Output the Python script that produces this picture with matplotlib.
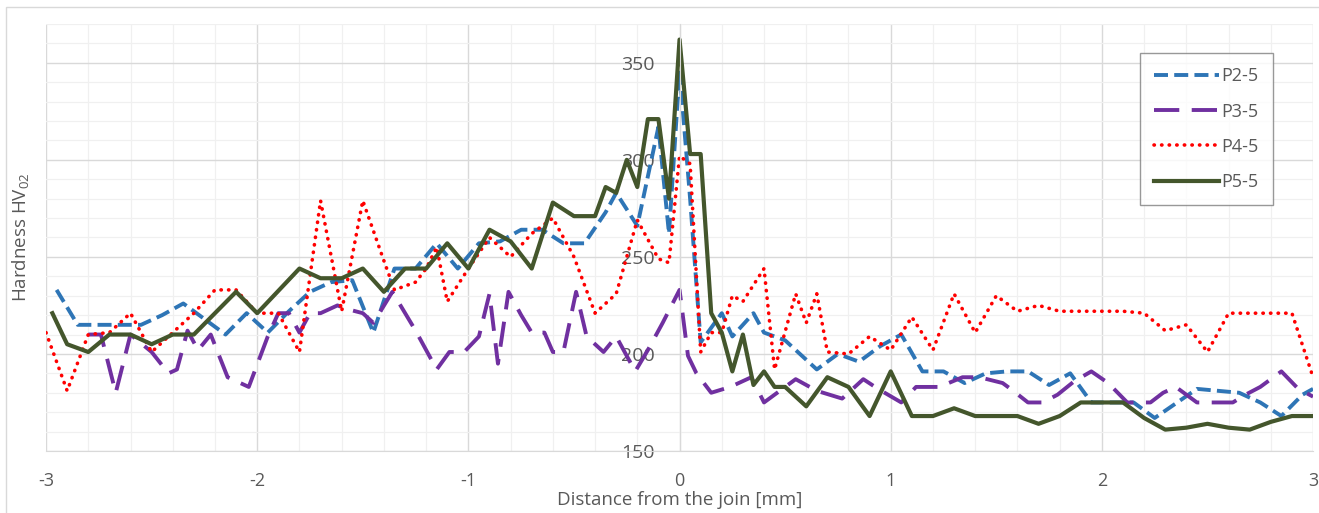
import matplotlib
matplotlib.use("Agg")
import matplotlib.pyplot as plt
from matplotlib.patches import Rectangle
from matplotlib.ticker import MultipleLocator

plt.rcParams['font.family'] = ['Open Sans', 'DejaVu Sans']
plt.rcParams['mathtext.fontset'] = 'custom'
plt.rcParams['mathtext.rm'] = 'Open Sans'
plt.rcParams['mathtext.it'] = 'Open Sans:italic'
plt.rcParams['axes.unicode_minus'] = False

# P2-5 (blue, dashed)
x_p2 = [-2.95, -2.85, -2.75, -2.65, -2.55, -2.45, -2.35, -2.25, -2.15, -2.05, -1.95, -1.85, -1.75, -1.65, -1.55, -1.45,
        -1.35, -1.25, -1.15, -1.05, -0.95, -0.85, -0.75, -0.65, -0.55, -0.45,
        -0.35, -0.3, -0.2, -0.1, -0.05, 0.0, 0.05, 0.1, 0.2, 0.25, 0.35, 0.4, 0.5,
        0.65, 0.75, 0.85, 0.95, 1.05, 1.15, 1.25, 1.35, 1.45, 1.55, 1.65, 1.75, 1.85, 1.95,
        2.05, 2.15, 2.25, 2.45, 2.55, 2.65, 2.75, 2.85, 2.95, 3.0]
y_p2 = [233, 215, 215, 215, 215, 220, 226, 218, 210, 221, 211, 222, 232, 237, 238, 211,
        244, 244, 257, 244, 257, 258, 264, 264, 257, 257,
        273, 283, 266, 317, 262, 346, 280, 206, 221, 209, 221, 211, 207,
        192, 200, 196, 204, 210, 191, 191, 185, 190, 191, 191, 184, 190, 175,
        175, 175, 167, 182, 181, 180, 175, 168, 179, 182]

# P3-5 (purple, long dash)
x_p3 = [-2.8, -2.74, -2.67, -2.6, -2.5, -2.42, -2.38, -2.33, -2.28, -2.22,
        -2.14, -2.04, -1.95, -1.9, -1.85, -1.8, -1.75, -1.7, -1.62, -1.57,
        -1.5, -1.45, -1.36, -1.25, -1.15, -1.09, -1.02, -0.95, -0.9, -0.86,
        -0.81, -0.75, -0.7, -0.64, -0.6, -0.55, -0.49, -0.44, -0.36, -0.3,
        -0.21, -0.15, -0.08, 0.0, 0.04, 0.08, 0.15, 0.24, 0.34, 0.4,
        0.55, 0.65, 0.77, 0.87, 0.94, 1.05, 1.12, 1.23, 1.34, 1.42,
        1.53, 1.58, 1.65, 1.72, 1.79, 1.87, 1.95, 2.03, 2.12, 2.23,
        2.29, 2.35, 2.45, 2.62, 2.68, 2.75, 2.85, 2.93, 3.0]
y_p3 = [210, 210, 180, 210, 201, 190, 192, 212, 202, 210,
        188, 183, 209, 221, 221, 211, 221, 221, 225, 223,
        221, 216, 232, 212, 192, 201, 201, 209, 231, 195,
        232, 220, 211, 211, 201, 201, 232, 209, 201, 209,
        191, 202, 216, 233, 199, 190, 180, 183, 188, 175,
        187, 181, 177, 187, 182, 175, 183, 183, 188, 188,
        185, 181, 175, 175, 179, 186, 191, 185, 175, 175,
        180, 183, 175, 175, 179, 183, 191, 182, 178]

# P4-5 (red, dotted)
x_p4 = [-3.0, -2.9, -2.8, -2.7, -2.6, -2.5, -2.4, -2.3, -2.2, -2.1, -2.0, -1.9, -1.8, -1.7, -1.6, -1.5, -1.4,
        -1.35, -1.25, -1.2, -1.15, -1.1,
        -1.0, -0.9, -0.8, -0.7, -0.6, -0.5, -0.4, -0.3, -0.2, -0.1, -0.05, 0.0,
        0.05, 0.1, 0.15, 0.2, 0.25, 0.3, 0.4, 0.45, 0.55, 0.6, 0.65, 0.7, 0.8, 0.9, 1.0,
        1.1, 1.2, 1.3, 1.4, 1.5, 1.6, 1.7, 1.8, 1.9, 2.0,
        2.1, 2.2, 2.3, 2.4, 2.5, 2.6, 2.7, 2.8, 2.9, 3.0]
y_p4 = [211, 181, 210, 211, 221, 201, 211, 221, 233, 233, 221, 221, 201, 279, 222, 279, 248,
        233, 237, 244, 255, 227,
        244, 260, 250, 262, 270, 250, 221, 231, 269, 249, 247, 302,
        298, 201, 211, 211, 230, 227, 244, 192, 231, 216, 231, 201, 200, 209, 202,
        219, 202, 231, 211, 230, 222, 225, 222, 222, 222,
        222, 221, 212, 215, 201, 221, 221, 221, 221, 188]

# P5-5 (dark green, solid)
x_p5 = [-2.97, -2.9, -2.8, -2.7, -2.6, -2.5, -2.4, -2.3, -2.1, -2.0,
        -1.8, -1.7, -1.6, -1.5, -1.4, -1.3, -1.2, -1.1, -1.0,
        -0.9, -0.8, -0.7, -0.6, -0.5, -0.4, -0.35, -0.3, -0.25, -0.2, -0.15, -0.1, -0.05, 0.0,
        0.05, 0.1, 0.15, 0.2, 0.25, 0.3, 0.35, 0.4, 0.45, 0.5, 0.6, 0.7, 0.8, 0.9, 1.0,
        1.1, 1.2, 1.3, 1.4, 1.5, 1.6, 1.7, 1.8, 1.9, 2.0,
        2.1, 2.2, 2.3, 2.4, 2.5, 2.6, 2.7, 2.8, 2.9, 3.0]
y_p5 = [221, 205, 201, 210, 210, 205, 210, 210, 232, 221,
        244, 239, 239, 244, 232, 244, 244, 257, 244,
        264, 258, 244, 278, 271, 271, 286, 283, 300, 286, 321, 321, 280, 362,
        303, 303, 221, 211, 191, 210, 184, 191, 183, 183, 173, 188, 183, 168, 191,
        168, 168, 172, 168, 168, 168, 164, 168, 175, 175,
        175, 167, 161, 162, 164, 162, 161, 165, 168, 168]

x_ticks = [-3, -2, -1, 0, 1, 2, 3]
y_ticks = [150, 200, 250, 300, 350]

fig = plt.figure(figsize=(13.19, 5.13), dpi=100)
# light frame around the chart area (left and top edges visible)
fig.patches.append(Rectangle((0.0045, -0.02), 1.0, 1.0064, transform=fig.transFigure,
                             fill=False, edgecolor='#d9d9d9', linewidth=1.0))
ax = fig.add_axes([0.0349, 0.1209, 0.9606, 0.8323])

ax.plot(x_p2, y_p2, color='#2e75b6', lw=2.8, linestyle=(0, (3.6, 1.6)), label='P2-5')
ax.plot(x_p3, y_p3, color='#7030a0', lw=2.8, linestyle=(0, (6.5, 3.2)), label='P3-5')
ax.plot(x_p4, y_p4, color='#ff0000', lw=2.6, linestyle=(0, (0.1, 2.0)), dash_capstyle='round', label='P4-5')
ax.plot(x_p5, y_p5, color='#44562c', lw=3.0, label='P5-5')

ax.set_xlim(-3, 3)
ax.set_ylim(150, 370)
ax.set_xticks(x_ticks)
ax.set_yticks(y_ticks)
ax.xaxis.set_minor_locator(MultipleLocator(0.2))
ax.yaxis.set_minor_locator(MultipleLocator(10))
ax.grid(which='major', color='#d9d9d9', linewidth=1.0)
ax.grid(which='minor', color='#f0f0f0', linewidth=0.9)
ax.set_axisbelow(True)

for s in ['top', 'right']:
    ax.spines[s].set_visible(False)
ax.spines['left'].set_position(('data', 0))
ax.spines['left'].set_color('#d9d9d9')
ax.spines['bottom'].set_color('#d9d9d9')
ax.tick_params(which='both', length=0)
ax.tick_params(axis='y', labelsize=14, labelcolor='#595959', pad=18)
ax.tick_params(axis='x', labelsize=13, labelcolor='#595959', pad=15)

ax.set_xlabel('Distance from the join [mm]', fontsize=13.5, color='#595959', labelpad=1)
ax.set_ylabel(r'Hardness HV$_{\mathrm{02}}$', fontsize=13.5, color='#595959')
ax.yaxis.set_label_coords(-0.012, 0.5)

leg = ax.legend(loc='upper left', bbox_to_anchor=(1140 / 1319, 1 - 53 / 513), bbox_transform=fig.transFigure,
                fontsize=13, frameon=True, fancybox=False, handlelength=3.6, handletextpad=0.1,
                labelspacing=0.95, borderpad=0.8, borderaxespad=0)
leg.get_frame().set_edgecolor('#7f7f7f')
leg.get_frame().set_linewidth(1.0)
for t in leg.get_texts():
    t.set_color('#595959')

fig.savefig('out.png', dpi=100)
